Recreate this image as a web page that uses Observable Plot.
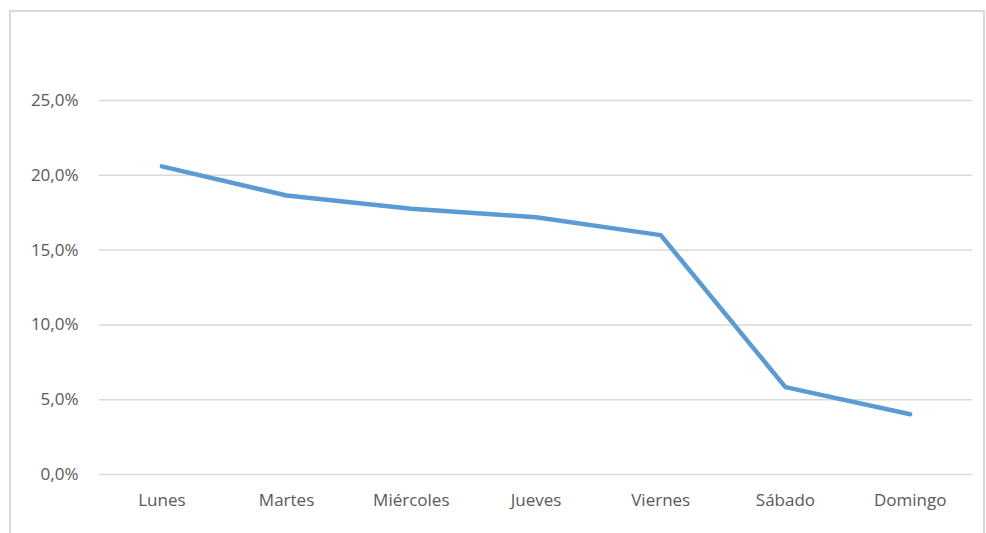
<!DOCTYPE html>
<html>
<head>
<meta charset="utf-8">
<script src="https://cdn.jsdelivr.net/npm/d3@7"></script>
<script src="https://cdn.jsdelivr.net/npm/@observablehq/plot@0.6"></script>
<style>
  html, body { margin: 0; padding: 0; background: #fff; }
  #wrap { position: relative; width: 986px; height: 533px; overflow: hidden; }
  #frame { position: absolute; left: 9px; top: 10px; width: 976px; height: 530px; border: 2px solid #d9d9d9; box-sizing: border-box; pointer-events: none; }
  #chart { position: absolute; left: 0; top: 0; }
</style>
</head>
<body>
<div id="wrap"><div id="chart"></div><div id="frame"></div></div>
<script>
const days = ["Lunes", "Martes", "Miércoles", "Jueves", "Viernes", "Sábado", "Domingo"];
const shares = [0.206, 0.1865, 0.1776, 0.172, 0.160, 0.0584, 0.0403];
const yTicks = [0, 0.05, 0.10, 0.15, 0.20, 0.25];

const data = days.map((d, i) => ({day: d, value: shares[i]}));
const fmt = v => (v * 100).toFixed(1).replace(".", ",") + "%";

const chart = Plot.plot({
  width: 986,
  height: 533,
  marginTop: 100,
  marginBottom: 59,
  marginLeft: 99,
  marginRight: 14,
  style: {fontFamily: "'Open Sans', sans-serif", fontSize: "17px", color: "#595959", background: "transparent"},
  x: {type: "point", domain: days, padding: 0.5, round: false, label: null},
  y: {domain: [0, 0.25], label: null},
  marks: [
    Plot.ruleY(yTicks, {stroke: "#d9d9d9", strokeWidth: 1.5}),
    Plot.axisY({ticks: yTicks, tickFormat: fmt, tickSize: 0, tickPadding: 21, label: null, fill: "#595959"}),
    Plot.axisX({tickSize: 0, tickPadding: 19, label: null, fill: "#595959"}),
    Plot.line(data, {x: "day", y: "value", stroke: "#5b9bd5", strokeWidth: 4.5, strokeLinejoin: "round", strokeLinecap: "round"})
  ]
});
document.getElementById("chart").appendChild(chart);
</script>
</body>
</html>
